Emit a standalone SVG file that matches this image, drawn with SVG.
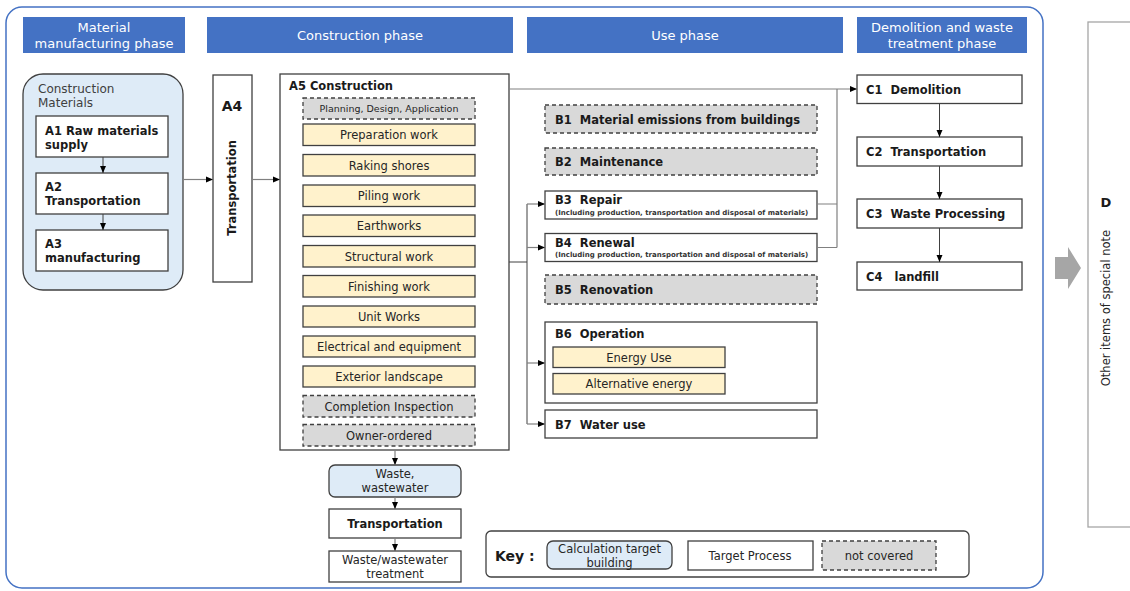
<svg xmlns="http://www.w3.org/2000/svg" width="1130" height="591" viewBox="0 0 1130 591">
<style>
text{font-family:"DejaVu Sans","Liberation Sans",sans-serif;fill:#1a1a1a;white-space:pre}
.hdr{fill:#4472C4}
.ht{fill:#fff;font-size:13px;text-anchor:middle}
.box{fill:#fff;stroke:#404040;stroke-width:1.3}
.blue{fill:#DEEBF7;stroke:#404040;stroke-width:1.3}
.yel{fill:#FFF2CC;stroke:#404040;stroke-width:1.3}
.gray{fill:#D9D9D9;stroke:#404040;stroke-width:1.3;stroke-dasharray:4 3}
.b{font-weight:bold;font-size:11.5px}
.it{font-size:11.5px;text-anchor:middle;fill:#262626}
.sub{font-size:7px;font-weight:bold;fill:#333}
.con{fill:none;stroke:#808080;stroke-width:1.2}
.cond{fill:none;stroke:#404040;stroke-width:1}
</style>
<defs>
<marker id="ah" markerUnits="userSpaceOnUse" markerWidth="8" markerHeight="8" refX="7" refY="4" orient="auto">
<path d="M0,1 L7,4 L0,7 Z" fill="#000"/>
</marker>
</defs>

<rect x="6" y="7" width="1037" height="581" rx="16" fill="#fff" stroke="#4472C4" stroke-width="1.5"/>

<g id="headers">
<rect class="hdr" x="23" y="17" width="162" height="36"/>
<text class="ht" x="104" y="32">Material</text>
<text class="ht" x="104" y="48">manufacturing phase</text>
<rect class="hdr" x="207" y="17" width="306" height="36"/>
<text class="ht" x="360" y="40">Construction phase</text>
<rect class="hdr" x="527" y="17" width="316" height="36"/>
<text class="ht" x="685" y="40">Use phase</text>
<rect class="hdr" x="857" y="17" width="170" height="36"/>
<text class="ht" x="942" y="32">Demolition and waste</text>
<text class="ht" x="942" y="48">treatment phase</text>
</g>

<g id="construction-materials">
<rect class="blue" x="23" y="74" width="160" height="216" rx="20"/>
<text x="38" y="93" style="font-size:12px;fill:#404040">Construction</text>
<text x="38" y="107" style="font-size:12px;fill:#404040">Materials</text>
</g>
<g id="A1"><rect class="box" x="36" y="116" width="132" height="41"/>
<text class="b" x="45" y="135">A1 Raw materials</text><text class="b" x="45" y="149">supply</text></g>
<g id="A2"><rect class="box" x="36" y="173" width="132" height="41"/>
<text class="b" x="45" y="191">A2</text><text class="b" x="45" y="205">Transportation</text></g>
<g id="A3"><rect class="box" x="36" y="230" width="132" height="41"/>
<text class="b" x="45" y="248">A3</text><text class="b" x="45" y="262">manufacturing</text></g>

<g id="A4"><rect class="box" x="213" y="75" width="39" height="207"/>
<text x="232" y="111" style="font-size:14px;font-weight:bold;text-anchor:middle">A4</text>
<text class="b" x="0" y="0" text-anchor="middle" transform="translate(236,188) rotate(-90)">Transportation</text></g>

<g id="A5"><rect class="box" x="280" y="74" width="229" height="376"/>
<text class="b" x="289" y="90">A5 Construction</text>
<rect class="gray" x="303" y="98" width="172" height="21"/>
<text class="it" x="389" y="112" style="font-size:9.5px">Planning, Design, Application</text>
<rect class="yel" x="303" y="124" width="172" height="21.5"/><text class="it" x="389" y="139">Preparation work</text>
<rect class="yel" x="303" y="154.5" width="172" height="21.5"/><text class="it" x="389" y="169.5">Raking shores</text>
<rect class="yel" x="303" y="185" width="172" height="21.5"/><text class="it" x="389" y="200">Piling work</text>
<rect class="yel" x="303" y="215" width="172" height="21.5"/><text class="it" x="389" y="230">Earthworks</text>
<rect class="yel" x="303" y="245.5" width="172" height="21.5"/><text class="it" x="389" y="260.5">Structural work</text>
<rect class="yel" x="303" y="275.5" width="172" height="21.5"/><text class="it" x="389" y="290.5">Finishing work</text>
<rect class="yel" x="303" y="306" width="172" height="21"/><text class="it" x="389" y="321">Unit Works</text>
<rect class="yel" x="303" y="336" width="172" height="21"/><text class="it" x="389" y="351">Electrical and equipment</text>
<rect class="yel" x="303" y="366" width="172" height="21"/><text class="it" x="389" y="381">Exterior landscape</text>
<rect class="gray" x="303" y="395.5" width="172" height="21.5"/><text class="it" x="389" y="410.5">Completion Inspection</text>
<rect class="gray" x="303" y="424.5" width="172" height="21.5"/><text class="it" x="389" y="439.5">Owner-ordered</text>
</g>

<g id="waste"><rect class="blue" x="329" y="465" width="132" height="32" rx="6"/>
<text class="it" x="395" y="478">Waste,</text><text class="it" x="395" y="492">wastewater</text></g>
<g id="waste-transport"><rect class="box" x="329" y="509" width="132" height="29"/>
<text class="b" x="395" y="528" text-anchor="middle">Transportation</text></g>
<g id="waste-treatment"><rect class="box" x="329" y="551" width="132" height="31"/>
<text class="it" x="395" y="564">Waste/wastewater</text><text class="it" x="395" y="578">treatment</text></g>

<g id="B1"><rect class="gray" x="545" y="105" width="272" height="28"/><text class="b" x="555" y="123.5">B1  Material emissions from buildings</text></g>
<g id="B2"><rect class="gray" x="545" y="148" width="272" height="27"/><text class="b" x="555" y="166">B2  Maintenance</text></g>
<g id="B3"><rect class="box" x="545" y="191" width="272" height="28"/><text class="b" x="555" y="204">B3  Repair</text>
<text class="sub" x="555" y="214.5">(Including production, transportation and disposal of materials)</text></g>
<g id="B4"><rect class="box" x="545" y="233.5" width="272" height="28"/><text class="b" x="555" y="246.5">B4  Renewal</text>
<text class="sub" x="555" y="257">(Including production, transportation and disposal of materials)</text></g>
<g id="B5"><rect class="gray" x="545" y="275" width="272" height="29"/><text class="b" x="555" y="294">B5  Renovation</text></g>
<g id="B6"><rect class="box" x="545" y="322" width="272" height="81"/><text class="b" x="555" y="338">B6  Operation</text>
<rect class="yel" x="553" y="347" width="172" height="20.5"/><text class="it" x="639" y="361.5">Energy Use</text>
<rect class="yel" x="553" y="373.5" width="172" height="20.5"/><text class="it" x="639" y="388">Alternative energy</text></g>
<g id="B7"><rect class="box" x="545" y="410" width="272" height="28"/><text class="b" x="555" y="428.5">B7  Water use</text></g>

<g id="C1"><rect class="box" x="857" y="75" width="165" height="28.5"/><text class="b" x="866" y="93.5">C1  Demolition</text></g>
<g id="C2"><rect class="box" x="857" y="137" width="165" height="29"/><text class="b" x="866" y="156">C2  Transportation</text></g>
<g id="C3"><rect class="box" x="857" y="199" width="165" height="29"/><text class="b" x="866" y="218">C3  Waste Processing</text></g>
<g id="C4"><rect class="box" x="857" y="262" width="165" height="28"/><text class="b" x="866" y="281">C4   landfill</text></g>

<g id="D-arrow"><path d="M1055,257 H1068 V247 L1081,268 L1068,289 V279 H1055 Z" fill="#A6A6A6"/></g>
<g id="D"><rect x="1088" y="22" width="60" height="505" fill="#fff" stroke="#A6A6A6" stroke-width="1.3"/>
<text x="1106" y="207" style="font-size:13px;font-weight:bold;text-anchor:middle">D</text>
<text x="0" y="0" text-anchor="middle" style="font-size:11.5px;fill:#262626" transform="translate(1110,308) rotate(-90)">Other items of special note</text></g>

<g id="key"><rect x="486" y="531" width="483" height="46" rx="5" fill="#fff" stroke="#404040" stroke-width="1.3"/>
<text x="495" y="561" style="font-size:14px;font-weight:bold">Key :</text>
<rect class="blue" x="547" y="541" width="125" height="28" rx="6"/>
<text class="it" x="609.5" y="553">Calculation target</text><text class="it" x="609.5" y="567">building</text>
<rect class="box" x="688" y="541" width="125" height="29"/>
<text class="it" x="750" y="560">Target Process</text>
<rect class="gray" x="822" y="541" width="114" height="29"/>
<text class="it" x="879" y="560">not covered</text></g>

<g id="connectors">
<path class="cond" d="M103,157 V173" marker-end="url(#ah)"/>
<path class="cond" d="M103,214 V230" marker-end="url(#ah)"/>
<path class="con" d="M183,179.5 H213" marker-end="url(#ah)"/>
<path class="con" d="M252,179.5 H280" marker-end="url(#ah)"/>
<path class="con" d="M509,89 H857" marker-end="url(#ah)"/>
<path class="con" d="M817,204 H837 M817,247.5 H837 M837,89 V247.5"/>
<path class="cond" d="M509,262 H527 M527,204 V424"/>
<path class="con" d="M527,204 H545" marker-end="url(#ah)"/>
<path class="con" d="M527,247.5 H545" marker-end="url(#ah)"/>
<path class="con" d="M527,363 H545" marker-end="url(#ah)"/>
<path class="con" d="M527,424 H545" marker-end="url(#ah)"/>
<path class="con" d="M395,450 V465" marker-end="url(#ah)"/>
<path class="con" d="M395,497 V509" marker-end="url(#ah)"/>
<path class="con" d="M395,538 V551" marker-end="url(#ah)"/>
<path class="cond" d="M939.5,103.5 V137" marker-end="url(#ah)"/>
<path class="cond" d="M939.5,166 V199" marker-end="url(#ah)"/>
<path class="cond" d="M939.5,228 V262" marker-end="url(#ah)"/>
</g>
</svg>
